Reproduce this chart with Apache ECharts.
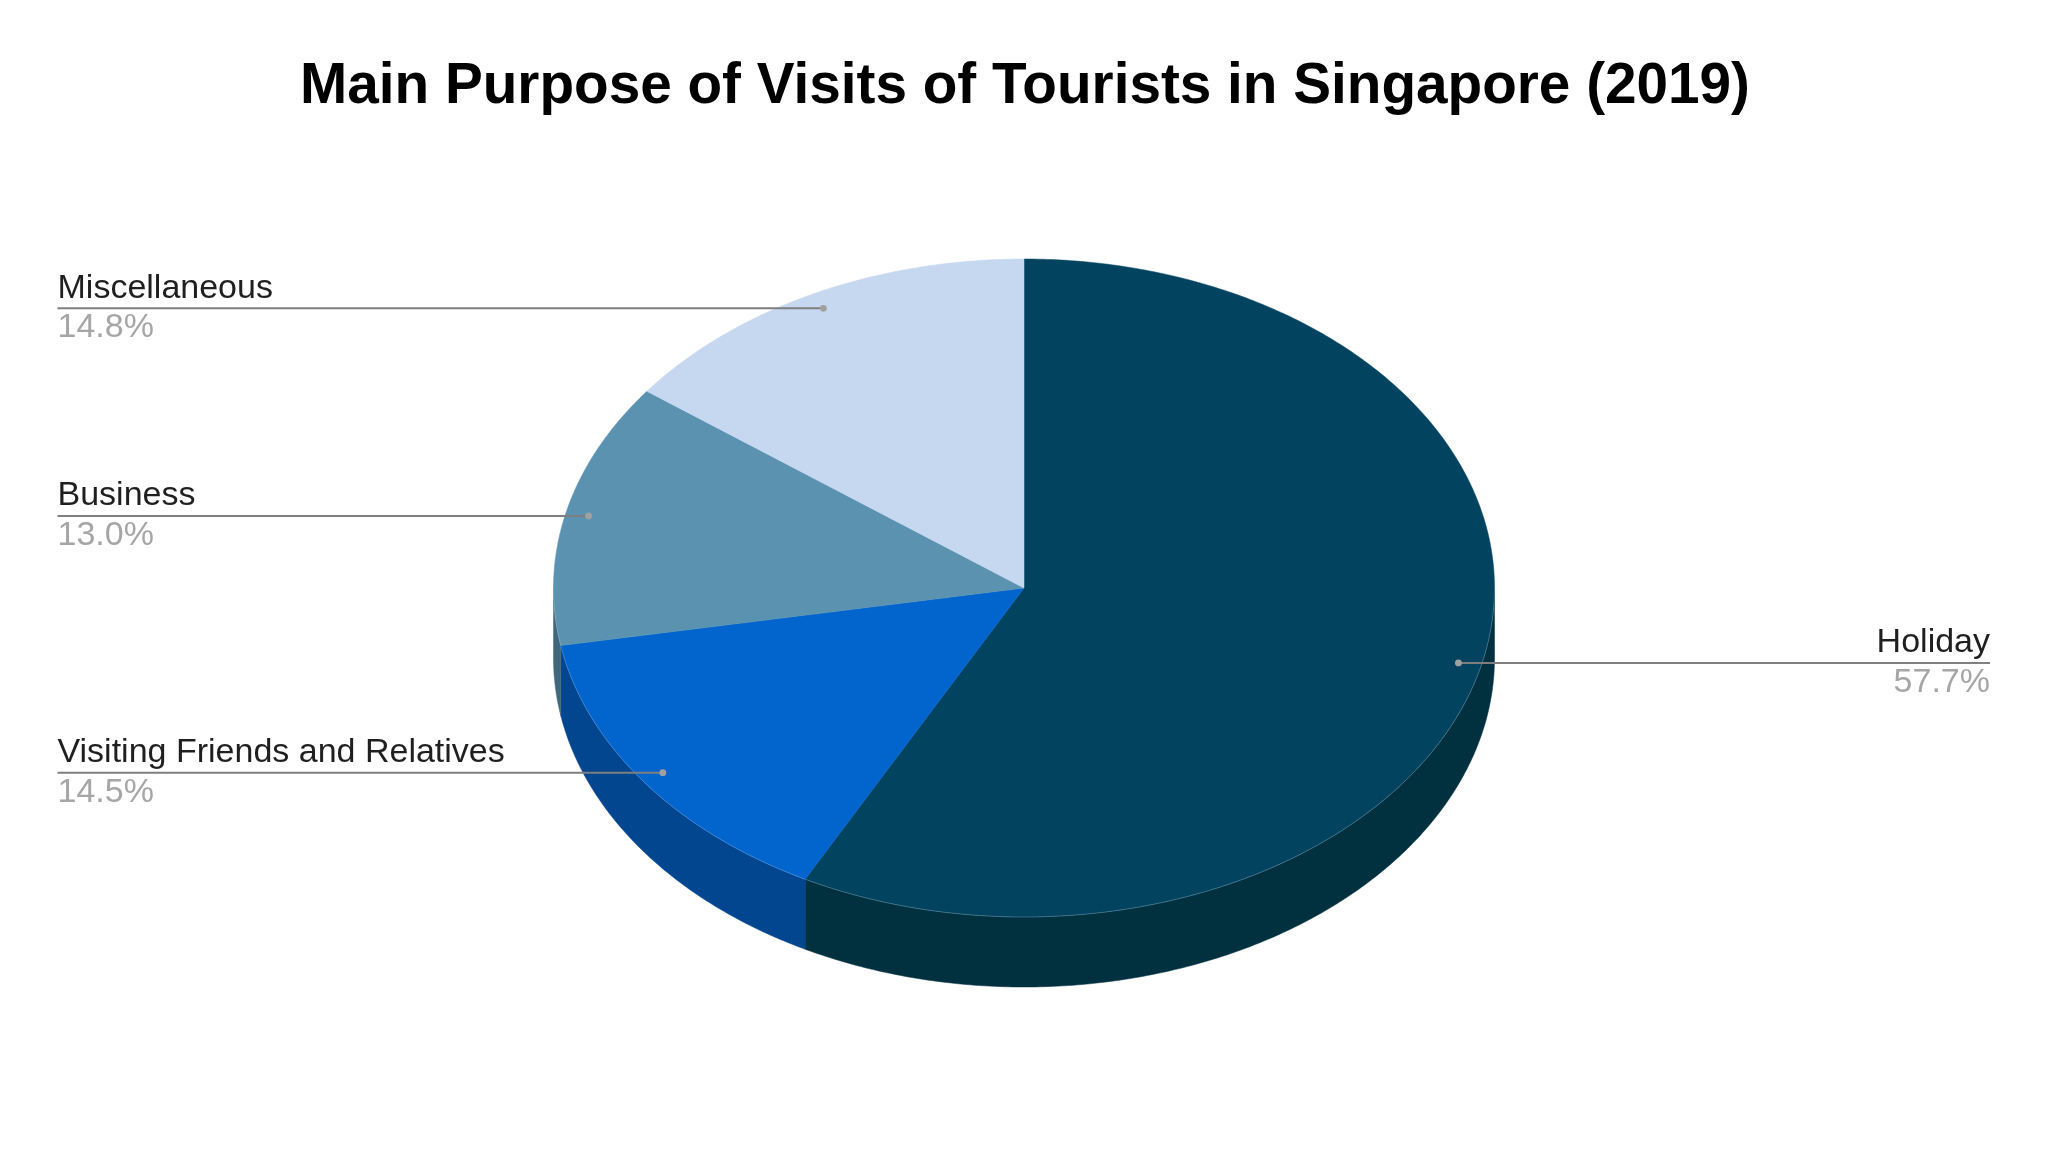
<!DOCTYPE html>
<html>
<head>
<meta charset="utf-8">
<style>html,body{margin:0;padding:0;background:#fff}#c{width:2048px;height:1151px}</style>
<script src="https://cdn.jsdelivr.net/npm/echarts@6/dist/echarts.min.js"></script>
</head>
<body>
<div id="c"></div>
<script>
var categories = ['Holiday', 'Visiting Friends and Relatives', 'Business', 'Miscellaneous'];
var shares = [57.7, 14.5, 13.0, 14.8];
var chartTitle = 'Main Purpose of Visits of Tourists in Singapore (2019)';

var topColors = ['#02435F', '#0265CD', '#5A92B0', '#C6D8F0'];
var wallColors = ['#01303F', '#024690', '#40677C', '#8C99AA'];
var edgeColors = ['#7FA9BC', '#6FA8EA', '#9DBDCF', '#E2EBF7'];
var FONT = '"Liberation Sans", Arial, sans-serif';

var geo = { cx: 1024, cy: 588, rx: 470.5, ry: 329, depth: 70, dotR: 0.951 };
var labelSide = { left: 57.5, right: 1990 };
var total = shares.reduce(function (a, b) { return a + b; }, 0);

function startAngle(i) {
  var s = 0;
  for (var k = 0; k < i; k++) s += shares[k];
  return s / total * Math.PI * 2;
}
function pt(t, f, dy) {
  return [geo.cx + geo.rx * f * Math.sin(t), geo.cy - geo.ry * f * Math.cos(t) + (dy || 0)];
}
function arc(a, b, dy) {
  var n = Math.max(2, Math.ceil((b - a) / 0.01)), out = [];
  for (var i = 0; i <= n; i++) out.push(pt(a + (b - a) * i / n, 1, dy));
  return out;
}

var seriesData = shares.map(function (v, i) { return { name: categories[i], value: [i, v] }; });

function renderWall(params, api) {
  var i = api.value(0);
  var a = Math.max(startAngle(i), Math.PI / 2);
  var b = Math.min(startAngle(i) + api.value(1) / total * Math.PI * 2, Math.PI * 1.5);
  if (b <= a) return { type: 'group', children: [] };
  var pts = arc(a, b, 0).concat(arc(a, b, geo.depth).reverse());
  return {
    type: 'polygon', shape: { points: pts },
    style: { fill: wallColors[i], stroke: wallColors[i], lineWidth: 0.5 }
  };
}
function renderTop(params, api) {
  var i = api.value(0);
  var a = startAngle(i);
  var b = a + api.value(1) / total * Math.PI * 2;
  var children = [{
    type: 'polygon', shape: { points: [[geo.cx, geo.cy]].concat(arc(a, b, 0)) },
    style: { fill: topColors[i], stroke: topColors[i], lineWidth: 0.5 }
  }];
  var fa = Math.max(a, Math.PI / 2), fb = Math.min(b, Math.PI * 1.5);
  if (fb > fa) {
    children.push({
      type: 'polyline', shape: { points: arc(fa, fb, 0) },
      style: { fill: null, stroke: edgeColors[i], lineWidth: 0.7, opacity: 0.6 }
    });
  }
  return { type: 'group', children: children };
}
function renderLeader(params, api) {
  var i = api.value(0), v = api.value(1);
  var mid = startAngle(i) + v / total * Math.PI;
  var d = pt(mid, geo.dotR, 0);
  var onRight = Math.sin(mid) > 0;
  var x = onRight ? labelSide.right : labelSide.left;
  var align = onRight ? 'right' : 'left';
  return {
    type: 'group',
    children: [
      { type: 'line', shape: { x1: d[0], y1: d[1], x2: x, y2: d[1] },
        style: { stroke: '#7F7F7F', lineWidth: 2 } },
      { type: 'circle', shape: { cx: d[0], cy: d[1], r: 3.4 },
        style: { fill: '#A0A0A0' } },
      { type: 'text',
        style: { text: categories[i], x: x, y: d[1] - 20, textAlign: align, textVerticalAlign: 'middle',
                 font: '34px ' + FONT, fill: '#1F1F1F' } },
      { type: 'text',
        style: { text: v.toFixed(1) + '%', x: x, y: d[1] + 19.5, textAlign: align, textVerticalAlign: 'middle',
                 font: '34px ' + FONT, fill: '#A6A6A6' } }
    ]
  };
}

var chart = echarts.init(document.getElementById('c'), null, { width: 2048, height: 1151, renderer: 'canvas' });
chart.setOption({
  animation: false,
  backgroundColor: '#ffffff',
  title: {
    text: chartTitle, left: 1020, top: 54,
    textAlign: 'center',
    textStyle: { fontFamily: FONT, fontWeight: 'bold', fontSize: 56.7, color: '#000000' }
  },
  series: [
    { type: 'custom', name: 'side', coordinateSystem: 'none', renderItem: renderWall, data: seriesData, silent: true, z: 1 },
    { type: 'custom', name: 'share', coordinateSystem: 'none', renderItem: renderTop, data: seriesData, silent: true, z: 2 },
    { type: 'custom', name: 'labels', coordinateSystem: 'none', renderItem: renderLeader, data: seriesData, silent: true, z: 3 }
  ]
});
</script>
</body>
</html>
